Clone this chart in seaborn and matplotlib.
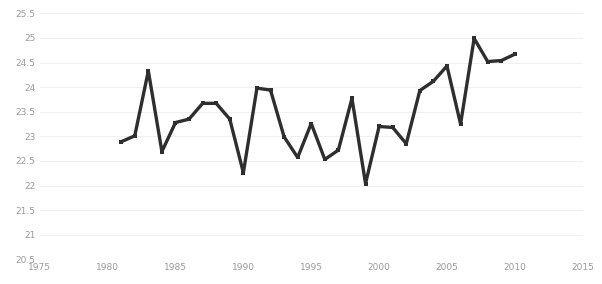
import numpy as np
import pandas as pd
import matplotlib
matplotlib.use("Agg")
import matplotlib.pyplot as plt
import seaborn as sns

# values
years = list(range(1981, 2011))
values = [22.89, 23.01, 24.33, 22.69, 23.28, 23.35, 23.67, 23.67, 23.35, 22.26,
          23.98, 23.94, 22.99, 22.57, 23.26, 22.53, 22.72, 23.77, 22.04, 23.20,
          23.18, 22.85, 23.93, 24.12, 24.43, 23.25, 24.99, 24.52, 24.54, 24.67]
x_ticks = list(range(1975, 2016, 5))
y_ticks = [20.5, 21, 21.5, 22, 22.5, 23, 23.5, 24, 24.5, 25, 25.5]

df = pd.DataFrame({"year": years, "value": values})

sns.set_style("white")
fig, ax = plt.subplots(figsize=(6.02, 2.84), dpi=100)
fig.subplots_adjust(left=0.066, right=0.968, bottom=0.087, top=0.953)

sns.lineplot(data=df, x="year", y="value", ax=ax, color="#2e2e2e", lw=2.4,
             marker="s", markersize=3, markeredgewidth=0)

ax.set_xlim(1975, 2015)
ax.set_ylim(20.5, 25.5)
ax.set_xticks(x_ticks)
ax.set_yticks(y_ticks)
ax.set_yticklabels([f"{v:g}" for v in y_ticks])
ax.tick_params(length=0, labelsize=6.5, labelcolor="#9a9a9a", pad=3)
ax.grid(axis="y", color="#f0f0f0", lw=0.8)
ax.set_xlabel("")
ax.set_ylabel("")
sns.despine(ax=ax, left=True, bottom=True)

fig.savefig("out.png", dpi=100)
